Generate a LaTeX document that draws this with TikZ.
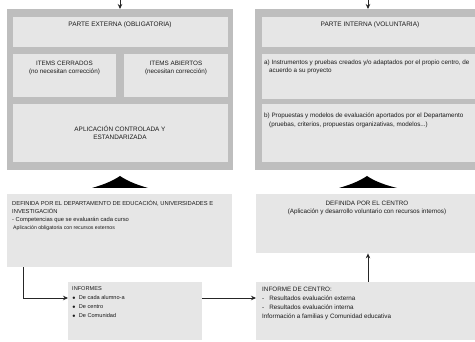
\documentclass[tikz,border=0pt]{standalone}
\usepackage{fontspec}
\setmainfont{Liberation Sans}
\usetikzlibrary{arrows.meta}
\definecolor{outergray}{HTML}{BEBEBE}
\definecolor{innergray}{HTML}{E6E6E6}
\definecolor{txt}{HTML}{1A1A1A}
\tikzset{
  outerbox/.style={fill=outergray, draw=none},
  innerbox/.style={fill=innergray, draw=none},
  lbl/.style={text=txt, font=\fontsize{6.3}{8.3}\selectfont, inner sep=0pt, align=center},
  lbll/.style={text=txt, font=\fontsize{6.3}{8.3}\selectfont, inner sep=0pt, align=left},
  conn/.style={draw=black!85, line width=0.7pt},
  arr/.style={conn, -{Stealth[length=5pt,width=4.5pt]}},
  mound/.style={fill=black, draw=none}
}
\begin{document}
\begin{tikzpicture}[x=1pt,y=-1pt]
\useasboundingbox (0,0) rectangle (475,342);
% left column
\path[outerbox] (7,9) rectangle (233,170);
\node[innerbox, minimum width=215pt, minimum height=30pt, anchor=north west, inner sep=0pt] (pe) at (13,17) {};
\node[lbl, font=\fontsize{6.5}{8}\selectfont] (pet) at (120,25) {PARTE EXTERNA (OBLIGATORIA)};
\node[innerbox, minimum width=103pt, minimum height=43pt, anchor=north west, inner sep=0pt] (ic) at (13,54) {};
\node[lbl, anchor=north] (ict) at (64.5,60.5) {ITEMS CERRADOS\\(no necesitan corrección)};
\node[innerbox, minimum width=104pt, minimum height=43pt, anchor=north west, inner sep=0pt] (ia) at (124,54) {};
\node[lbl, anchor=north] (iat) at (176,60.5) {ITEMS ABIERTOS\\(necesitan corrección)};
\node[innerbox, minimum width=215pt, minimum height=58pt, anchor=north west, inner sep=0pt] (ap) at (13,104) {};
\node[lbl, font=\fontsize{6.4}{8.5}\selectfont] (apt) at (120,133) {APLICACIÓN CONTROLADA Y\\ESTANDARIZADA};
% right column
\path[outerbox] (255,9) rectangle (475,170);
\node[innerbox, minimum width=213pt, minimum height=30pt, anchor=north west, inner sep=0pt] (pi) at (262,17) {};
\node[lbl, font=\fontsize{6.5}{8}\selectfont] (pit) at (370,25) {PARTE INTERNA (VOLUNTARIA)};
\node[innerbox, minimum width=213pt, minimum height=45pt, anchor=north west, inner sep=0pt] (ba) at (262,54) {};
\node[lbll, anchor=north west] (bat) at (264,59.5) {a) Instrumentos y pruebas creados y/o adaptados por el propio centro, de\\\hspace*{5pt}acuerdo a su proyecto};
\node[innerbox, minimum width=213pt, minimum height=58pt, anchor=north west, inner sep=0pt] (bb) at (262,104) {};
\node[lbll, anchor=north west] (bbt) at (264,113) {b) Propuestas y modelos de evaluación aportados por el Departamento\\\hspace*{5pt}(pruebas, criterios, propuestas organizativas, modelos...)};
% top arrows
\coordinate (tl) at (120,0);
\coordinate (tr) at (368,0);
\draw[arr] (tl) -- (120,9);
\draw[arr] (tr) -- (368,9);
% mounds
\path[mound] (92,188) .. controls (106,184) and (114,180) .. (120,176) .. controls (126,180) and (134,184) .. (148,188) -- cycle;
\path[mound] (339,188) .. controls (353,184) and (361,180) .. (367,176) .. controls (373,180) and (381,184) .. (397,188) -- cycle;
% lower boxes
\node[innerbox, minimum width=225pt, minimum height=73pt, anchor=north west, inner sep=0pt] (dep) at (7,194) {};
\node[lbll, font=\fontsize{5.8}{8}\selectfont, anchor=north west] (dept) at (12,200.5) {DEFINIDA POR EL DEPARTAMENTO DE EDUCACIÓN, UNIVERSIDADES E\\INVESTIGACIÓN\\- Competencias que se evaluarán cada curso\\\hspace*{1pt}{\fontsize{5.2}{8}\selectfont Aplicación obligatoria con recursos externos}};
\node[innerbox, minimum width=219pt, minimum height=59pt, anchor=north west, inner sep=0pt] (cen) at (256,194) {};
\node[lbl, anchor=north] (cent) at (367,201) {DEFINIDA POR EL CENTRO\\(Aplicación y desarrollo voluntario con recursos internos)};
\node[innerbox, minimum width=134pt, minimum height=58pt, anchor=north west, inner sep=0pt] (inf) at (68,282) {};
\node[lbll, font=\fontsize{5.6}{9}\selectfont, anchor=north west] (inft) at (72,286.5) {INFORMES\\$\scriptscriptstyle\bullet$\hspace{3pt}De cada alumno-a\\$\scriptscriptstyle\bullet$\hspace{3pt}De centro\\$\scriptscriptstyle\bullet$\hspace{3pt}De Comunidad};
\node[innerbox, minimum width=219pt, minimum height=58pt, anchor=north west, inner sep=0pt] (ic2) at (256,282) {};
\node[lbll, font=\fontsize{6.3}{9}\selectfont, anchor=north west] (ic2t) at (262,286.5) {INFORME DE CENTRO:\\-\hspace{5pt}Resultados evaluación externa\\-\hspace{5pt}Resultados evaluación interna\\Información a familias y Comunidad educativa};
% connectors
\coordinate (bend) at (23,298);
\draw[arr] (dep.south west -| bend) -- (bend) -- (bend -| inf.west);
\draw[arr] (inf.east |- bend) -- (bend -| ic2.west);
\draw[arr] (ic2.north -| 368,0) -- (cen.south -| 368,0);
\end{tikzpicture}
\end{document}
